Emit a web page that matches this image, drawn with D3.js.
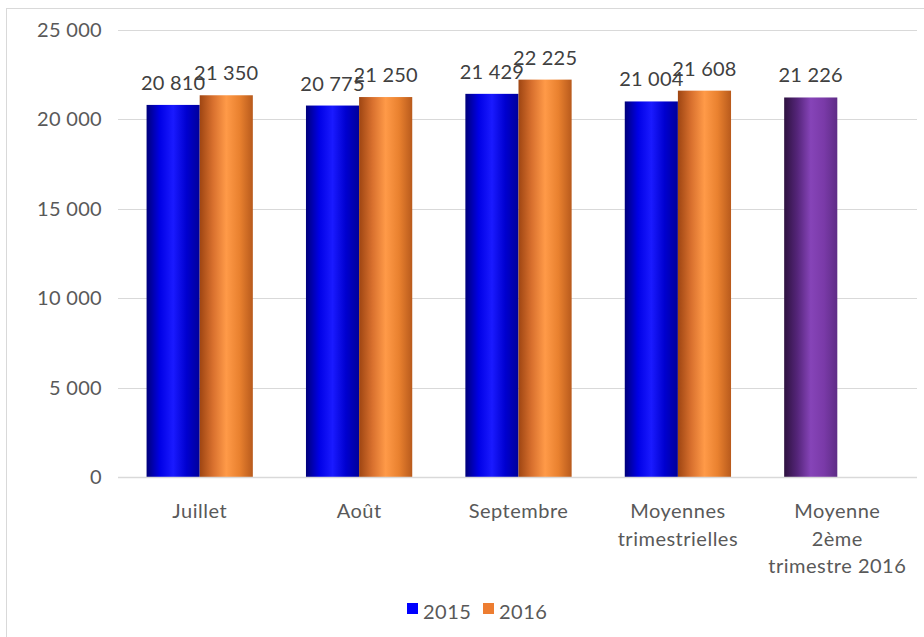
<!DOCTYPE html>
<html>
<head>
<meta charset="utf-8">
<script src="https://cdn.jsdelivr.net/npm/d3@7"></script>
<style>
  body { margin: 0; background: #fff; }
  text { font-family: "Century Gothic", "Lato", sans-serif; fill: #595959; }
</style>
</head>
<body>
<div id="chart"></div>
<script>
const categories = ['Juillet', 'Août', 'Septembre', 'Moyennes trimestrielles', 'Moyenne 2ème trimestre 2016'];
const categoryLines = [['Juillet'], ['Août'], ['Septembre'], ['Moyennes', 'trimestrielles'], ['Moyenne', '2ème', 'trimestre 2016']];
const series = ['2015', '2016'];
const values2015 = [20810, 20775, 21429, 21004, 21226];
const values2016 = [21350, 21250, 22225, 21608, null];
const yTicks = [0, 5000, 10000, 15000, 20000, 25000];

const width = 924, height = 637;
const margin = { left: 120, right: 7, top: 30, bottom: 159 };

const svg = d3.select('#chart').append('svg')
  .attr('width', width)
  .attr('height', height);

// gradients for the bars
const defs = svg.append('defs');
const gradients = {
  blue: ['#00007a', '#0000e6', '#1a1aff', '#0000d0', '#00009a'],
  orange: ['#9e4512', '#d8702e', '#ff9a48', '#e9812f', '#b85a1c'],
  purple: ['#2e1240', '#55257a', '#8644b8', '#7a3aa8', '#5e2c86']
};
for (const key in gradients) {
  const grad = defs.append('linearGradient')
    .attr('id', `grad-${key}`)
    .attr('x1', '0%').attr('x2', '100%')
    .attr('y1', '0%').attr('y2', '0%');
  const stops = gradients[key];
  stops.forEach((c, i) => {
    grad.append('stop')
      .attr('offset', `${i / (stops.length - 1) * 100}%`)
      .attr('stop-color', c);
  });
}

// outer frame
svg.append('rect')
  .attr('x', 6.5).attr('y', 8.5)
  .attr('width', width + 10).attr('height', height + 10)
  .attr('fill', 'none')
  .attr('stroke', '#d9d9d9');

const x = d3.scaleBand()
  .domain(categories)
  .range([margin.left, width - margin.right]);

const xInner = d3.scaleBand()
  .domain(series)
  .range([0, x.bandwidth()])
  .paddingOuter(0.5)
  .paddingInner(0);

const y = d3.scaleLinear()
  .domain([0, 25000])
  .range([height - margin.bottom - 1, margin.top]);

const fmt = v => d3.format(',')(v).replace(/,/g, ' ');

// gridlines
svg.append('g')
  .selectAll('line')
  .data(yTicks.filter(d => d > 0))
  .join('line')
    .attr('x1', margin.left - 2)
    .attr('x2', width - margin.right)
    .attr('y1', d => Math.round(y(d)) + 0.5)
    .attr('y2', d => Math.round(y(d)) + 0.5)
    .attr('stroke', '#d9d9d9')
    .attr('stroke-width', 1.2);

// y axis labels
svg.append('g')
  .selectAll('text')
  .data(yTicks)
  .join('text')
    .attr('x', 102)
    .attr('y', d => y(d) + 7)
    .attr('text-anchor', 'end')
    .attr('font-size', 20)
    .attr('letter-spacing', 0.3)
    .text(d => fmt(d));

// bars
const barData = [];
categories.forEach((c, i) => {
  barData.push({ cat: c, s: '2015', v: values2015[i], fill: i === 4 ? 'purple' : 'blue' });
  if (values2016[i] != null) barData.push({ cat: c, s: '2016', v: values2016[i], fill: 'orange' });
});

svg.append('g')
  .selectAll('rect')
  .data(barData)
  .join('rect')
    .attr('x', d => x(d.cat) + xInner(d.s))
    .attr('y', d => y(d.v))
    .attr('width', xInner.bandwidth())
    .attr('height', d => y(0) - y(d.v))
    .attr('fill', d => `url(#grad-${d.fill})`);

// bar labels
svg.append('g')
  .selectAll('text')
  .data(barData)
  .join('text')
    .attr('x', d => x(d.cat) + xInner(d.s) + xInner.bandwidth() / 2)
    .attr('y', d => y(d.v) - 15)
    .attr('text-anchor', 'middle')
    .attr('font-size', 20)
    .attr('letter-spacing', 0.2)
    .style('fill', '#404040')
    .text(d => fmt(d.v));

// x axis line
svg.append('line')
  .attr('x1', margin.left - 2)
  .attr('x2', width - margin.right)
  .attr('y1', y(0) + 0.5)
  .attr('y2', y(0) + 0.5)
  .attr('stroke', '#d9d9d9')
  .attr('stroke-width', 1.5);

// x axis labels
const xl = svg.append('g')
  .selectAll('text')
  .data(categories)
  .join('text')
    .attr('text-anchor', 'middle')
    .attr('font-size', 20)
    .attr('letter-spacing', 0.5);
xl.each(function(d, i) {
  const t = d3.select(this);
  categoryLines[i].forEach((line, j) => {
    t.append('tspan')
      .attr('x', x(d) + x.bandwidth() / 2)
      .attr('y', 518 + j * 27.5)
      .text(line);
  });
});

// legend
const legendItems = [
  { name: '2015', color: '#0000ff', x: 407 },
  { name: '2016', color: '#ed7d31', x: 483 }
];
const legend = svg.append('g')
  .selectAll('g')
  .data(legendItems)
  .join('g');
legend.append('rect')
  .attr('x', d => d.x)
  .attr('y', 603)
  .attr('width', 11)
  .attr('height', 11)
  .attr('fill', d => d.color);
legend.append('text')
  .attr('x', d => d.x + 16)
  .attr('y', 619)
  .attr('font-size', 20)
  .attr('letter-spacing', 0.5)
  .text(d => d.name);
</script>
</body>
</html>
